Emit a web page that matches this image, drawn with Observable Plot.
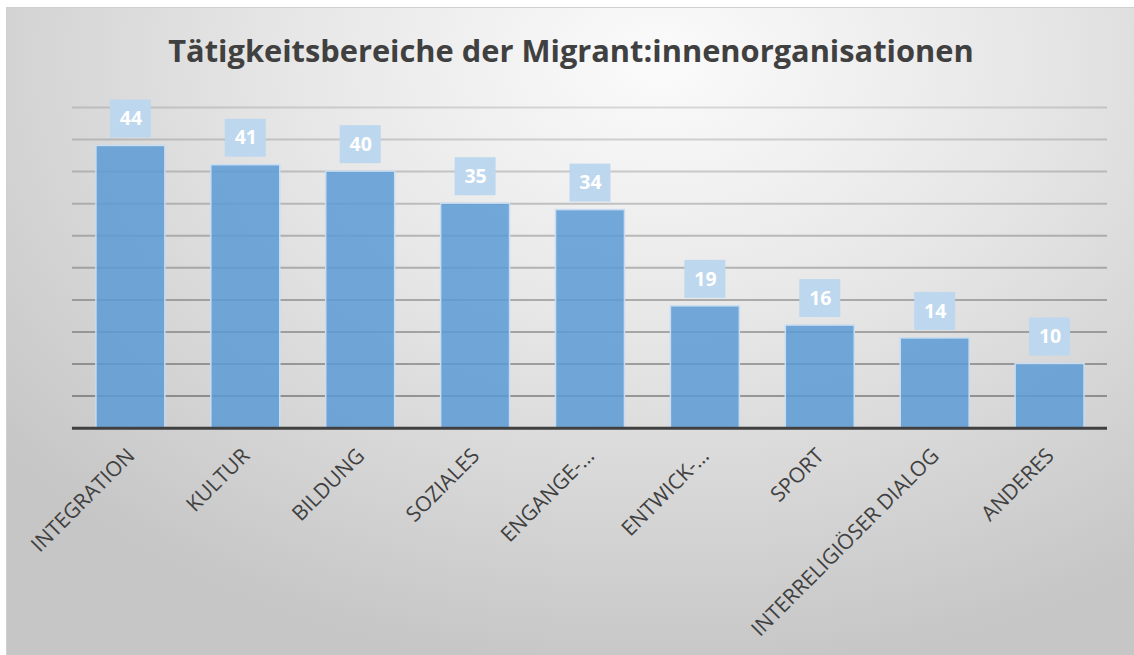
<!DOCTYPE html>
<html>
<head>
<meta charset="utf-8">
<script src="https://cdn.jsdelivr.net/npm/d3@7"></script>
<script src="https://cdn.jsdelivr.net/npm/@observablehq/plot@0.6"></script>
<style>
  html, body { margin: 0; padding: 0; background: #ffffff; }
  #frame {
    position: absolute; left: 6px; top: 7px; width: 1128px; height: 648px;
    box-sizing: border-box;
    border-left: 1px solid #d0d0d0; border-top: 1px solid #d0d0d0;
    background: radial-gradient(ellipse 75% 95% at 58% 8%, #fbfbfb 0%, #e6e6e6 45%, #c6c6c6 100%);
    overflow: hidden;
  }
  #title {
    height: 70px; box-sizing: border-box; padding-top: 24px;
    text-align: center; font-family: "Open Sans", sans-serif; font-weight: 700;
    font-size: 30.8px; color: #404040; line-height: 36px;
    padding-left: 1px;
  }
  svg { display: block; background: transparent; }
</style>
</head>
<body>
<div id="frame">
  <div id="title">Tätigkeitsbereiche der Migrant:innenorganisationen</div>
  <div id="chart"></div>
</div>
<script>
const categories = ["INTEGRATION", "KULTUR", "BILDUNG", "SOZIALES", "ENGANGE-…", "ENTWICK-…", "SPORT", "INTERRELIGIÖSER DIALOG", "ANDERES"];
const values = [44, 41, 40, 35, 34, 19, 16, 14, 10];
const gridTicks = [5, 10, 15, 20, 25, 30, 35, 40, 45, 50];

const data = categories.map((c, i) => ({category: c, value: values[i]}));

const chart = Plot.plot({
  width: 1128,
  height: 578,
  marginLeft: 65,
  marginRight: 27,
  marginTop: 29,
  marginBottom: 228,
  style: {background: "transparent", fontFamily: "'Open Sans', sans-serif"},
  x: {type: "band", domain: categories, paddingInner: 0.4, paddingOuter: 0.2, axis: null},
  y: {domain: [0, 50], axis: null},
  marks: [
    Plot.ruleY(gridTicks, {stroke: "#000", strokeOpacity: d => 0.13 + 0.22 * (1 - d / 50), strokeWidth: 2}),
    Plot.barY(data, {x: "category", y: "value", fill: "#5b9bd5", fillOpacity: 0.85, stroke: "#c8ddf1", strokeWidth: 1.5}),
    Plot.ruleY([0], {stroke: "#404040", strokeWidth: 3}),
    Plot.barY(data, {x: "category", y1: "value", y2: "value", fill: "#bdd7ee", insetTop: -46, insetBottom: 8, insetLeft: 14, insetRight: 14}),
    Plot.text(data, {x: "category", y: "value", text: d => String(d.value), dy: -27, fill: "#ffffff", fontSize: 19.5, fontWeight: "bold"}),
    Plot.text(categories, {x: d => d, frameAnchor: "bottom", text: d => d, rotate: -45, textAnchor: "end", dx: 5, dy: 29, fill: "#404040", fontSize: 21})
  ]
});
document.getElementById("chart").appendChild(chart);
</script>
</body>
</html>
